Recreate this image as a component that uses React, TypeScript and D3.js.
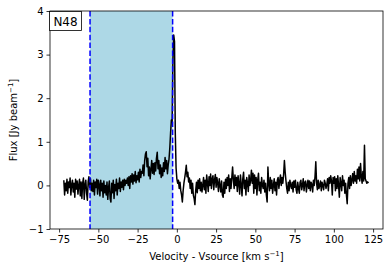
import { useEffect, useRef } from "react";
import * as d3 from "d3";

// spectrum channels: first channel velocity and channel width (km/s)
const channelStart = -72;
const channelWidth = 0.5;

// flux per channel [Jy/beam]
const fluxValues = [
  0.12, -0.22, 0.05, -0.12, 0.14, -0.18, 0.08, -0.05, 0.17, -0.22, 0.02, 0.12, -0.15, 0.05, -0.27, 0.14, -0.08, 0.1, -0.2, 0.0,
  0.14, -0.24, 0.08, -0.3, 0.05, 0.17, -0.32, 0.02, 0.12, -0.17, -0.34, 0.08, 0.2, -0.05, 0.15, -0.12, 0.05, -0.14, 0.12, -0.22,
  0.08, -0.05, 0.14, -0.2, 0.12, 0.02, -0.24, 0.12, -0.12, 0.05, -0.27, 0.1, -0.17, 0.0, -0.22, 0.08, -0.32, -0.05, 0.1, -0.3,
  -0.38, 0.05, -0.17, 0.12, -0.3, 0.02, -0.12, 0.14, -0.22, 0.05, -0.07, 0.17, -0.14, 0.08, -0.04, 0.12, -0.1, 0.14, 0.0, 0.12,
  0.05, 0.17, 0.0, 0.2, -0.07, 0.22, 0.08, 0.27, 0.03, 0.24, 0.1, 0.32, 0.06, 0.22, 0.13, 0.3, 0.08, 0.37, 0.18, 0.32,
  0.28, 0.47, 0.22, 0.57, 0.72, 0.77, 0.43, 0.62, 0.22, 0.42, 0.15, 0.37, 0.57, 0.28, 0.5, 0.25, 0.52, 0.33, 0.62, 0.76,
  0.38, 0.57, 0.27, 0.47, 0.18, 0.4, 0.22, 0.52, 0.32, 0.64, 0.38, 0.57, 0.27, 0.47, 0.6, 0.85, 1.2, 1.5, 1.45, 2.9,
  3.45, 3.3, 1.2, 0.4, 0.15, 0.05, 0.12, -0.07, 0.07, -0.12, -0.22, -0.38, -0.12, 0.05, 0.17, 0.3, 0.46, 0.2, 0.3, 0.08,
  0.17, -0.07, 0.12, -0.18, 0.05, -0.22, -0.3, -0.44, -0.12, 0.07, -0.17, 0.12, -0.07, 0.15, -0.12, 0.07, -0.15, 0.0, 0.18, -0.1,
  0.12, -0.18, 0.24, 0.05, -0.14, 0.2, 0.0, 0.26, -0.07, 0.15, 0.22, -0.1, 0.12, 0.25, -0.04, 0.18, 0.05, -0.14, 0.15, 0.0,
  -0.15, 0.1, -0.22, -0.27, 0.07, -0.18, 0.14, -0.07, 0.18, 0.0, 0.24, -0.14, 0.15, -0.07, 0.18, 0.42, 0.12, -0.07, 0.24, 0.0,
  0.18, -0.14, 0.22, 0.05, -0.2, 0.24, 0.02, -0.24, 0.15, 0.3, -0.07, 0.12, -0.22, 0.18, 0.05, -0.14, 0.24, 0.0, 0.12, 0.35,
  0.05, 0.28, -0.18, 0.24, -0.07, 0.18, -0.22, 0.12, 0.28, -0.12, 0.07, -0.18, 0.18, 0.0, -0.07, 0.12, -0.15, 0.05, -0.22, -0.38,
  0.42, 0.05, -0.12, 0.18, -0.07, 0.12, -0.18, 0.0, 0.15, -0.12, 0.07, -0.22, 0.12, 0.18, -0.07, 0.1, 0.24, 0.0, 0.18, 0.05,
  0.25, 0.57, 0.3, 0.1, -0.07, -0.18, 0.07, -0.12, 0.12, 0.0, -0.07, 0.07, -0.15, 0.1, -0.04, 0.12, -0.1, -0.18, 0.07, -0.07,
  -0.18, 0.07, 0.12, -0.1, 0.0, 0.15, -0.12, 0.07, 0.1, -0.15, 0.0, 0.12, -0.07, 0.1, -0.12, 0.07, 0.02, -0.15, 0.12, 0.0,
  0.2, 0.54, 0.05, -0.1, 0.12, -0.07, 0.0, 0.1, -0.12, 0.07, 0.0, -0.1, 0.12, 0.05, -0.07, 0.02, 0.15, -0.12, 0.18, 0.05,
  0.22, 0.1, -0.22, 0.18, 0.05, 0.2, -0.12, 0.15, -0.07, 0.22, 0.0, -0.27, 0.18, 0.05, -0.12, 0.22, 0.0, 0.12, -0.18, 0.05,
  -0.22, -0.42, 0.05, 0.18, -0.07, 0.22, 0.0, 0.12, 0.27, 0.05, 0.32, 0.1, 0.22, 0.05, 0.37, 0.15, 0.42, 0.1, 0.5, 0.2,
  0.05, 0.32, 0.1, 0.92, 0.15, 0.1, 0.05, 0.08, 0.05,
];

// integration window (km/s)
const windowEdges = [-55.3, -2.7];

const xTicks = [-75, -50, -25, 0, 25, 50, 75, 100, 125];
const yTicks = [-1, 0, 1, 2, 3, 4];
const xDomain = [-80.8, 131.3];
const yDomain = [-1, 4];
const sourceLabel = "N48";

export default function App() {
  const ref = useRef(null);

  useEffect(() => {
    const width = 390;
    const height = 272;
    const left = 50;
    const right = 383;
    const top = 11;
    const bottom = 229;
    const font = "DejaVu Sans, sans-serif";

    const svg = d3.select(ref.current);
    svg.selectAll("*").remove();
    svg.attr("viewBox", `0 0 ${width} ${height}`);

    const x = d3.scaleLinear().domain(xDomain).range([left, right]);
    const y = d3.scaleLinear().domain(yDomain).range([bottom, top]);

    const spectrum = fluxValues.map((flux, i) => ({ v: channelStart + i * channelWidth, flux }));

    svg.append("rect").attr("width", width).attr("height", height).attr("fill", "#fff");

    const clip = svg.append("defs").append("clipPath").attr("id", "plot-clip");
    clip.append("rect").attr("x", left).attr("y", top).attr("width", right - left).attr("height", bottom - top);

    const plot = svg.append("g").attr("clip-path", "url(#plot-clip)");

    plot
      .append("rect")
      .attr("x", x(windowEdges[0]))
      .attr("y", top)
      .attr("width", x(windowEdges[1]) - x(windowEdges[0]))
      .attr("height", bottom - top)
      .attr("fill", "#add8e6");

    const line = d3
      .line()
      .x((d) => x(d.v))
      .y((d) => y(d.flux));

    plot
      .append("path")
      .datum(spectrum)
      .attr("d", line)
      .attr("fill", "none")
      .attr("stroke", "#000")
      .attr("stroke-width", 1.5)
      .attr("stroke-linejoin", "round");

    plot
      .selectAll("line.edge")
      .data(windowEdges)
      .join("line")
      .attr("class", "edge")
      .attr("x1", (d) => x(d))
      .attr("x2", (d) => x(d))
      .attr("y1", top)
      .attr("y2", bottom)
      .attr("stroke", "#0000ff")
      .attr("stroke-width", 1.5)
      .attr("stroke-dasharray", "5.5,2.4");

    // frame
    svg
      .append("rect")
      .attr("x", left)
      .attr("y", top)
      .attr("width", right - left)
      .attr("height", bottom - top)
      .attr("fill", "none")
      .attr("stroke", "#000")
      .attr("stroke-width", 0.8);

    const xAxis = svg
      .append("g")
      .attr("transform", `translate(0,${bottom})`)
      .call(d3.axisBottom(x).tickValues(xTicks).tickSize(3.5).tickPadding(3).tickFormat((d) => d3.format("")(d).replace("-", "\u2212")));
    const yAxis = svg
      .append("g")
      .attr("transform", `translate(${left},0)`)
      .call(d3.axisLeft(y).tickValues(yTicks).tickSize(3.5).tickPadding(3).tickFormat((d) => d3.format("")(d).replace("-", "\u2212")));

    [xAxis, yAxis].forEach((axis) => {
      axis.select(".domain").remove();
      axis.selectAll("line").attr("stroke", "#000").attr("stroke-width", 0.8);
      axis.selectAll("text").attr("fill", "#000").attr("font-size", 10).attr("font-family", font);
    });

    const xLabel = svg
      .append("text")
      .attr("x", (left + right) / 2)
      .attr("y", 260)
      .attr("text-anchor", "middle")
      .attr("font-size", 10)
      .attr("font-family", font);
    xLabel.append("tspan").text("Velocity - Vsource [km s");
    xLabel.append("tspan").attr("baseline-shift", "super").attr("font-size", 7).text("\u22121");
    xLabel.append("tspan").text("]");

    const yLabel = svg
      .append("text")
      .attr("transform", `translate(17,${(top + bottom) / 2}) rotate(-90)`)
      .attr("text-anchor", "middle")
      .attr("font-size", 10)
      .attr("font-family", font);
    yLabel.append("tspan").text("Flux [Jy beam");
    yLabel.append("tspan").attr("baseline-shift", "super").attr("font-size", 7).text("\u22121");
    yLabel.append("tspan").text("]");

    svg
      .append("rect")
      .attr("x", 49.5)
      .attr("y", 11.5)
      .attr("width", 32)
      .attr("height", 19)
      .attr("fill", "#fff")
      .attr("stroke", "#000")
      .attr("stroke-width", 0.8);

    svg
      .append("text")
      .attr("x", 65.5)
      .attr("y", 25.5)
      .attr("text-anchor", "middle")
      .attr("font-size", 12)
      .attr("font-family", font)
      .text(sourceLabel);
  }, []);

  return <svg ref={ref} width={390} height={272} style={{ position: "absolute", left: 0, top: 0 }} />;
}
